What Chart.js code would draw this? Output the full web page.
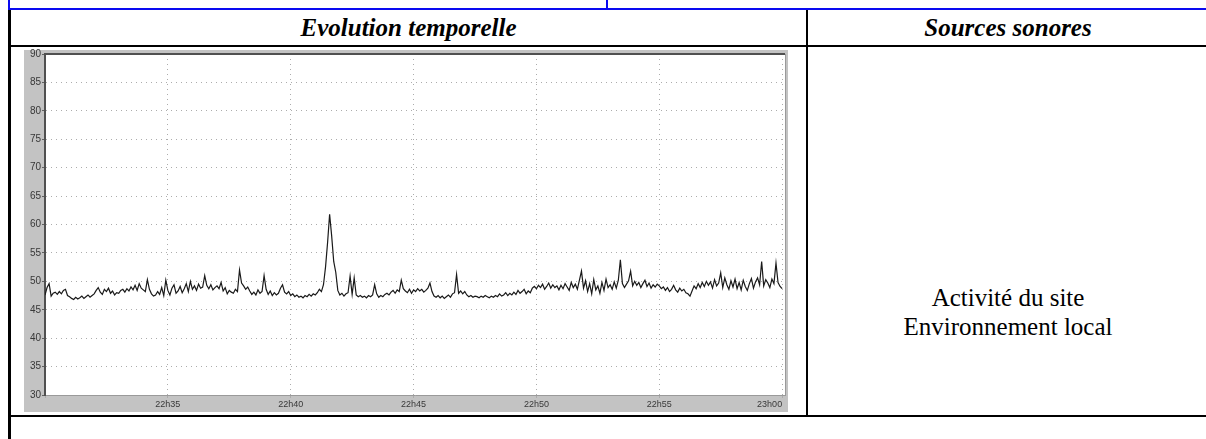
<!DOCTYPE html>
<html>
<head>
<meta charset="utf-8">
<title>Evolution temporelle</title>
<script src="https://cdn.jsdelivr.net/npm/chart.js@4.4.0/dist/chart.umd.min.js"></script>
<style>
	body { margin:0; background:#fff; width:1206px; height:439px; overflow:hidden; position:relative; font-family:"Liberation Serif", "Times New Roman", serif; }
	.rule { position:absolute; background:#000; }
	.blue { background:#0a0af0; }
	.head { position:absolute; top:10px; height:36px; line-height:36px; text-align:center; font-weight:bold; font-style:italic; font-size:25px; color:#000; }
	#sources { position:absolute; left:808px; width:400px; top:283px; text-align:center; font-size:25px; line-height:29px; color:#000; }
	#chart_box { position:absolute; left:20px; top:44px; width:780px; height:376px; }
</style>
</head>
<body>

<!-- table frame -->
<div class="rule blue" style="left:8px; top:8px; width:1198px; height:2px;"></div>
<div class="rule blue" style="left:8px; top:0; width:2px; height:10px;"></div>
<div class="rule blue" style="left:606px; top:0; width:2px; height:10px;"></div>
<div class="rule" style="left:8px; top:10px; width:3px; height:429px;"></div>
<div class="rule" style="left:11px; top:45px; width:1195px; height:2px;"></div>
<div class="rule" style="left:806px; top:10px; width:2px; height:406px;"></div>
<div class="rule" style="left:11px; top:415px; width:1195px; height:2px;"></div>

<div class="head" style="left:11px; width:795px;">Evolution temporelle</div>
<div class="head" style="left:808px; width:400px;">Sources sonores</div>
<div id="sources">Activité du site<br>Environnement local</div>

<div id="chart_box"><canvas id="level_chart" width="780" height="376"></canvas></div>

<script>
// sound level (dB) every 5 s from 22h30 to 23h00, one row per minute
var stepSeconds = 5;
var levels = [
	47.6, 48.9, 49.6, 47.4, 47.9, 48.1, 47.7, 48.2, 47.8, 48.4, 48.6, 47.5,
	47.3, 47.0, 46.8, 47.2, 46.9, 47.1, 47.4, 47.0, 47.3, 47.6, 47.2, 47.5,
	47.8, 48.4, 48.9, 48.1, 47.7, 48.6, 48.2, 48.8, 47.9, 48.3, 47.6, 48.0,
	47.9, 48.4, 48.6, 48.1, 48.7, 48.3, 49.0, 48.5, 49.3, 48.4, 49.6, 48.8,
	48.5, 48.2, 50.3, 48.6, 47.8, 47.4, 47.6, 48.2, 47.7, 48.9, 47.5, 50.2,
	48.4, 47.6, 48.8, 49.4, 47.9, 48.3, 49.1, 48.0, 48.7, 49.6, 48.2, 50.0,
	48.6, 49.2, 48.4, 49.5, 48.8, 49.0, 51.0, 49.3, 48.7, 49.4, 48.5, 48.9,
	49.2, 48.7, 49.8, 48.3, 48.9, 47.8, 48.4, 48.1, 47.9, 48.6, 48.2, 52.0,
	49.7, 49.2, 48.6, 49.0, 48.3, 47.7, 48.1, 47.6, 48.5, 47.9, 48.2, 51.0,
	48.6, 47.7, 48.3, 47.5, 48.0, 47.6, 47.9, 48.8, 49.4, 48.1, 47.8, 48.2,
	47.5, 47.8, 47.3, 47.6, 47.2, 47.4, 47.1, 47.5, 47.3, 47.7, 47.4, 47.8,
	47.6, 48.0, 48.6, 48.2, 49.4, 52.5, 56.8, 61.8, 58.0, 53.5, 51.6, 48.4,
	47.6, 47.9, 47.4, 47.8, 48.0, 50.9, 47.7, 50.6, 47.6, 47.3, 47.5, 47.2,
	47.4, 47.1, 47.5, 47.3, 47.6, 49.4, 47.8, 47.2, 47.5, 47.3, 47.7, 47.9,
	47.6, 48.1, 48.4, 47.9, 48.5, 48.2, 50.2, 48.7, 48.3, 48.0, 48.6, 47.9,
	48.5, 48.2, 48.7, 48.3, 48.6, 48.1, 48.4, 48.8, 49.7, 48.2, 47.4, 47.2,
	47.5, 47.1, 47.4, 47.0, 47.3, 47.6, 47.2, 47.8, 48.0, 51.2, 47.9, 48.3,
	47.8, 48.2, 47.6, 47.3, 47.5, 47.2, 47.4, 47.3, 47.1, 47.4, 47.2, 47.5,
	47.3, 47.1, 47.4, 47.2, 47.5, 47.3, 47.8, 47.4, 47.6, 48.0, 47.5, 47.9,
	47.6, 48.1, 47.7, 48.4, 47.9, 48.2, 48.6, 47.8, 48.3, 48.0, 48.8, 49.1,
	48.7, 49.3, 48.9, 49.5, 48.6, 49.1, 49.7, 48.8, 49.4, 48.9, 49.2, 48.5,
	49.3, 48.7, 49.6, 49.0, 48.4, 49.8, 48.9, 49.5, 48.6, 50.2, 51.8, 48.8,
	50.1, 48.2, 49.6, 47.8, 50.3, 48.5, 49.2, 47.9, 49.8, 48.4, 50.4, 48.9,
	49.4, 48.6, 49.9, 48.8, 50.2, 53.8, 49.6, 48.9, 49.5, 50.1, 51.8, 49.2,
	50.0, 49.3, 49.8, 48.9, 49.6, 50.2, 49.1, 49.7, 48.8, 49.4, 49.0, 49.5,
	49.2, 48.7, 49.0, 48.4, 48.9, 48.2, 48.6, 49.3, 48.5, 48.1, 48.8, 48.3,
	48.6, 48.0, 47.8, 47.4, 48.3, 49.2, 48.7, 49.6, 48.9, 49.8, 49.1, 50.0,
	49.3, 49.9, 48.8, 50.3, 49.2, 49.7, 51.5, 48.9, 50.6, 49.4, 48.6, 50.1,
	49.0, 50.4, 48.7, 49.8, 48.5, 50.2, 49.1, 48.4, 49.6, 50.5, 48.8, 49.9,
	50.6, 49.4, 53.5, 49.2, 50.3, 49.7, 48.9, 50.4, 49.6, 53.2, 49.8, 49.1,
	48.7
];

var yTicks = [30, 35, 40, 45, 50, 55, 60, 65, 70, 75, 80, 85, 90];
var timeTicks = [0, 300, 600, 900, 1200, 1500, 1800];
var timeLabels = ["", "22h35", "22h40", "22h45", "22h50", "22h55", "23h00"];

var frameGray = "#c3c3c3";
var gridGray = "#acacac";
var labelColor = "#383838";

function LevelChart(canvas_id) {
	this.canvas = document.getElementById(canvas_id);
	this.chart;
}

// grey window around the plot, white plot area, dark top edge
LevelChart.prototype.framePlugin = {
	id: "frame",
	beforeDraw: function(chart) {
		var ctx = chart.ctx;
		var a = chart.chartArea;
		ctx.save();
		ctx.fillStyle = frameGray;
		ctx.fillRect(a.left - 21, a.top - 4, a.right - a.left + 24, a.bottom - a.top + 21);
		ctx.fillStyle = "#fff";
		ctx.fillRect(a.left, a.top, a.right - a.left, a.bottom - a.top);
		ctx.restore();
	},
	afterDraw: function(chart) {
		var ctx = chart.ctx;
		var a = chart.chartArea;
		ctx.save();
		ctx.strokeStyle = "#505050";
		ctx.lineWidth = 2;
		ctx.beginPath();
		ctx.moveTo(a.left - 1, a.top);
		ctx.lineTo(a.right, a.top);
		ctx.stroke();
		ctx.strokeStyle = "#9a9a9a";
		ctx.lineWidth = 1;
		ctx.beginPath();
		ctx.moveTo(a.right + 0.5, a.top);
		ctx.lineTo(a.right + 0.5, a.bottom);
		ctx.stroke();
		ctx.restore();
	}
};

LevelChart.prototype.draw = function() {
	var points = [];
	for (var ix = 0; ix < levels.length; ix++) {
		points.push({ x: ix * stepSeconds, y: levels[ix] });
	}

	this.chart = new Chart(this.canvas, {
		type: "line",
		data: {
			datasets: [{
				data: points,
				borderColor: "#1a1a1a",
				borderWidth: 1.2,
				pointRadius: 0,
				tension: 0,
				fill: false
			}]
		},
		options: {
			responsive: false,
			animation: false,
			layout: { padding: { left: 5, top: 10, right: 15, bottom: 8 } },
			plugins: {
				legend: { display: false },
				tooltip: { enabled: false }
			},
			scales: {
				x: {
					type: "linear",
					min: 0,
					max: 1807,
					afterBuildTicks: function(scale) {
						scale.ticks = timeTicks.map(function(v) { return { value: v }; });
					},
					afterFit: function(scale) { scale.height = 17; },
					ticks: {
						autoSkip: false,
						maxRotation: 0,
						align: "inner",
						padding: 1,
						color: labelColor,
						font: { family: "Liberation Sans", size: 9 },
						callback: function(value) {
							return timeLabels[timeTicks.indexOf(value)];
						}
					},
					grid: {
						color: gridGray,
						lineWidth: 1,
						borderDash: [1, 4],
						tickLength: 3,
						tickColor: gridGray
					},
					border: { display: true, color: "#9a9a9a", width: 1, dash: [1, 4] }
				},
				y: {
					min: 30,
					max: 90,
					afterBuildTicks: function(scale) {
						scale.ticks = yTicks.map(function(v) { return { value: v }; });
					},
					afterFit: function(scale) { scale.width = 20; },
					ticks: {
						padding: 1,
						color: labelColor,
						font: { family: "Liberation Sans", size: 10 }
					},
					grid: {
						color: gridGray,
						lineWidth: 1,
						borderDash: [1, 4],
						tickLength: 3,
						tickColor: "#606060"
					},
					border: { display: true, color: "#505050", width: 2, dash: [1, 4] }
				}
			}
		},
		plugins: [this.framePlugin]
	});
};

var levelChart = new LevelChart("level_chart");
levelChart.draw();
</script>
</body>
</html>
